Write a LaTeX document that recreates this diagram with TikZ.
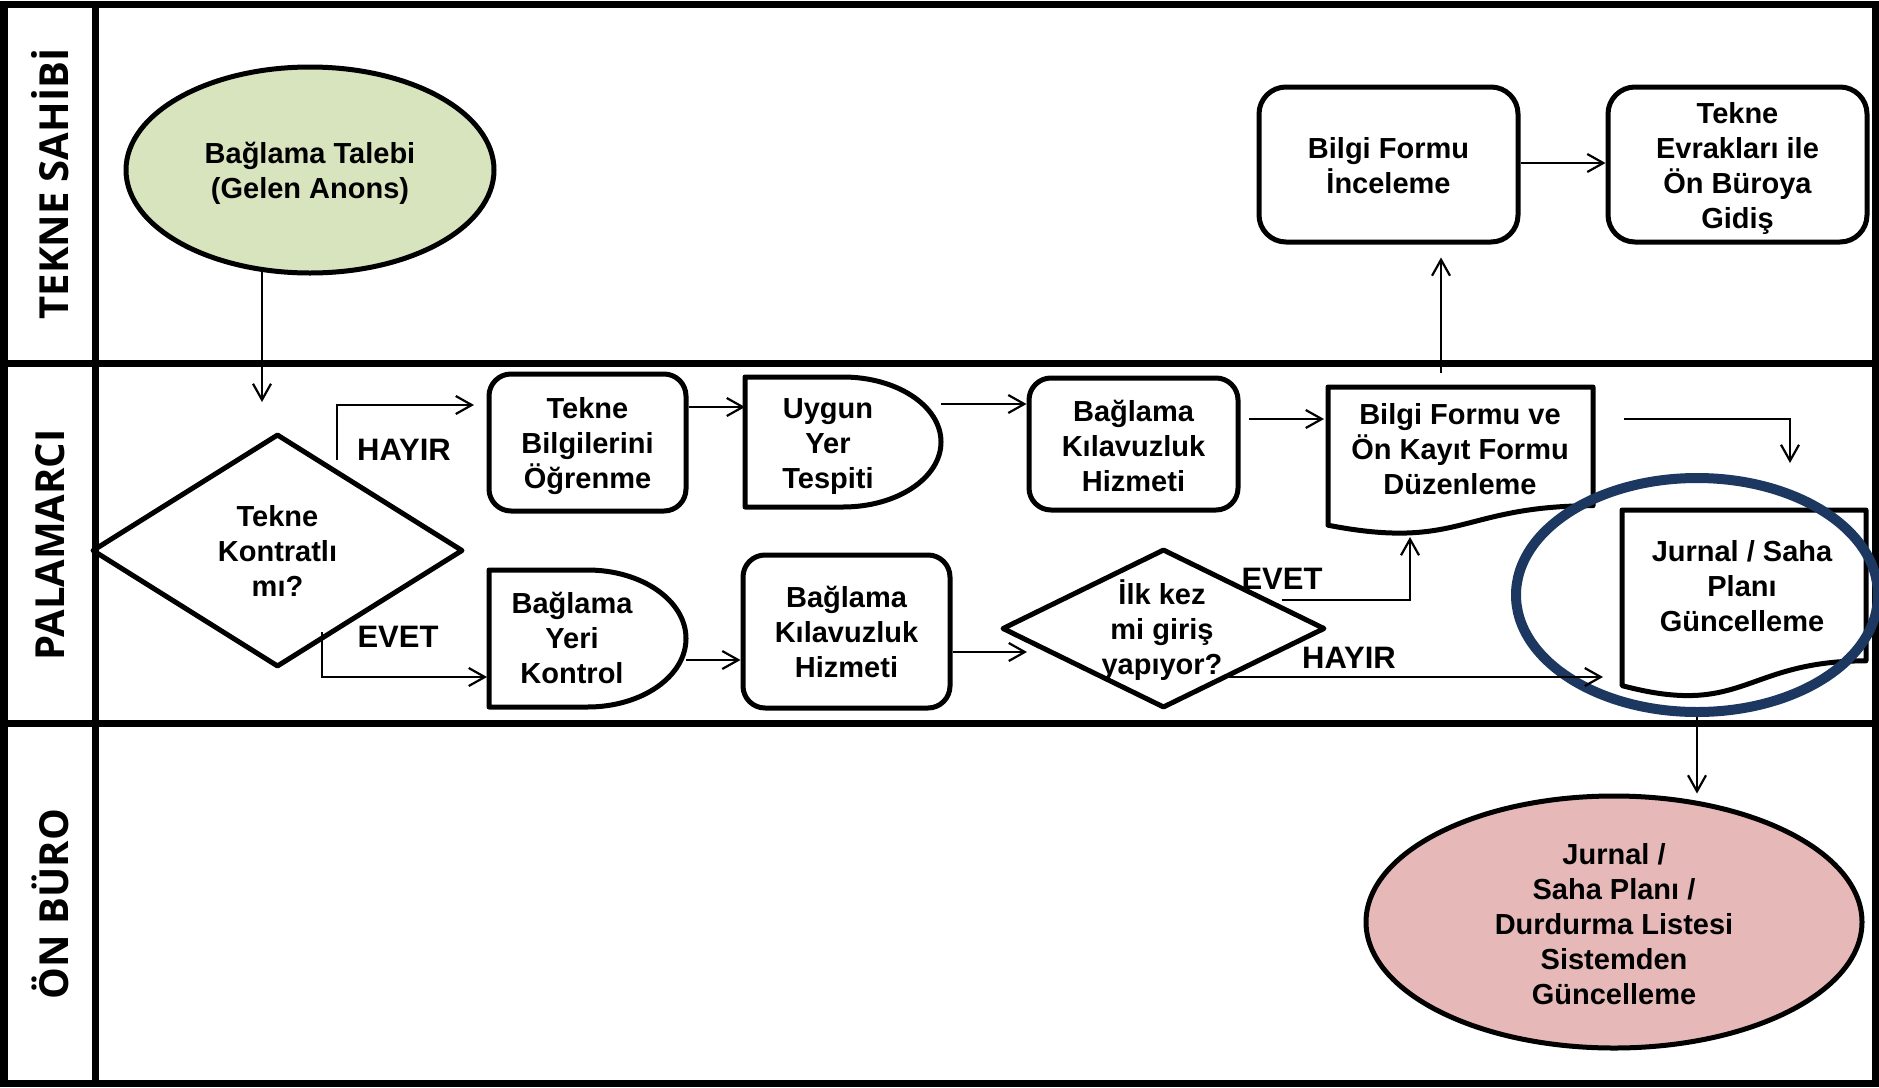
\documentclass[tikz,border=0pt]{standalone}
\usepackage{fontspec}
\setmainfont{Liberation Sans}
\newfontfamily\lanefamily{Open Sans}
\usetikzlibrary{shapes.geometric,arrows.meta}
\definecolor{talebi}{RGB}{215,228,189}
\definecolor{onburo}{RGB}{230,185,184}
\definecolor{ringblue}{RGB}{28,56,96}
\newcommand\boxfont{\fontsize{14.5}{17.5}\selectfont\bfseries}
\newcommand\lblfont{\fontsize{15.5}{18}\selectfont\bfseries}
\newcommand\lanefont{\lanefamily\bfseries\fontsize{20}{24}\selectfont}
\begin{document}
\begin{tikzpicture}[x=0.5pt,y=-0.5pt,
  lane/.style={line width=3.5pt, line cap=rect},
  shp/.style={draw, line width=2.5pt, line join=round, inner sep=0pt},
  rbox/.style={shp, rectangle, rounded corners=11pt},
  bigbox/.style={rbox, rounded corners=13.5pt, minimum width=129.5pt, minimum height=77.5pt},
  frm/.style={inner sep=0pt, outer sep=0pt, rectangle},
  txt/.style={inner sep=0pt, align=center, font=\boxfont},
  lbl/.style={inner sep=0pt, font=\lblfont},
  lanelbl/.style={rotate=90, inner sep=0pt, font=\lanefont},
  arr/.style={line width=1.1pt, -{Straight Barb[length=8pt,width=9pt]}},
]
\useasboundingbox (0,0) rectangle (1879,1087);
\fill[white] (0,0) rectangle (1879,1087);

% swimlanes
\draw[lane] (4,4) rectangle (1875,1083);
\draw[lane] (95,4) -- (95,1083);
\draw[lane] (4,363) -- (1875,363);
\draw[lane] (4,723) -- (1875,723);
\node[lanelbl] (l1) at (50,184) {TEKNE SAHİBİ};
\node[lanelbl] (l2) at (50,545) {PALAMARCI};
\node[lanelbl] (l3) at (50,904) {ÖN BÜRO};

% TEKNE SAHIBI lane
\node[shp, ellipse, fill=talebi, minimum width=184pt, minimum height=103pt] (talep) at (310,170) {};
\node[txt] (talept) at (310,173.5) {Bağlama Talebi\\(Gelen Anons)};
\node[bigbox] (bfi) at (1388.5,164.5) {};
\node[txt] (bfit) at (1388.5,165.5) {Bilgi Formu\\İnceleme};
\node[bigbox] (teo) at (1737.5,164.5) {};
\node[txt] (teot) at (1737.5,168.5) {Tekne\\Evrakları ile\\Ön Büroya\\Gidiş};

% PALAMARCI lane
\node[shp, diamond, minimum width=185.5pt, minimum height=116.5pt] (kontrat) at (277.5,550.5) {};
\node[txt] (kontratt) at (277.5,550.5) {Tekne\\Kontratlı\\mı?};

\node[rbox, minimum width=98.5pt, minimum height=68.5pt] (tbo) at (587.5,442.5) {};
\node[txt] (tbot) at (587.5,446.5) {Tekne\\Bilgilerini\\Öğrenme};

\node[frm, minimum width=98pt, minimum height=65pt] (uyg) at (843,442) {};
\draw[shp] (745,377) -- (843,377) arc[start angle=90, end angle=-90, x radius=49pt, y radius=32.5pt] -- (745,507) -- cycle;
\node[txt] (uygt) at (828,447) {Uygun\\Yer\\Tespiti};

\node[rbox, minimum width=104.5pt, minimum height=66pt] (bkh1) at (1133.5,444) {};
\node[txt] (bkh1t) at (1133.5,446) {Bağlama\\Kılavuzluk\\Hizmeti};

\node[frm, minimum width=132.5pt, minimum height=74pt] (bfk) at (1460.5,461) {};
\draw[shp] (1328,387) -- (1593,387) -- (1593,505.7) .. controls (1460.5,505.7) and (1460.5,550.9) .. (1328,525.2) -- cycle;
\node[txt] (bfkt) at (1460,449) {Bilgi Formu ve\\Ön Kayıt Formu\\Düzenleme};

\node[frm, minimum width=98.5pt, minimum height=68.5pt] (byk) at (587.5,638.5) {};
\draw[shp] (489,570) -- (587.5,570) arc[start angle=90, end angle=-90, x radius=49.25pt, y radius=34.25pt] -- (489,707) -- cycle;
\node[txt] (bykt) at (572,638) {Bağlama\\Yeri\\Kontrol};

\node[rbox, minimum width=103.5pt, minimum height=76.5pt] (bkh2) at (846.5,631.5) {};
\node[txt] (bkh2t) at (846.5,632) {Bağlama\\Kılavuzluk\\Hizmeti};

\node[shp, diamond, minimum width=161.5pt, minimum height=79.5pt] (ilk) at (1163.5,628.5) {};
\node[txt] (ilkt) at (1162,630) {İlk kez\\mi giriş\\yapıyor?};

\node[frm, minimum width=122pt, minimum height=94pt] (jsd) at (1744,604) {};
\draw[shp] (1622,510) -- (1866,510) -- (1866,660.8) .. controls (1744,660.8) and (1744,718.1) .. (1622,685.6) -- cycle;
\node[txt] (jst) at (1742,586) {Jurnal / Saha\\Planı\\Güncelleme};

% highlight ring
\node[draw=ringblue, line width=5pt, ellipse, minimum width=181pt, minimum height=117pt, inner sep=0pt] (hl) at (1697,595) {};

% ON BURO lane
\node[shp, ellipse, fill=onburo, minimum width=248pt, minimum height=126pt] (pink) at (1614,922) {};
\node[txt] (pinkt) at (1614,924) {Jurnal /\\Saha Planı /\\Durdurma Listesi\\Sistemden\\Güncelleme};

% connector rows / free ends
\coordinate (a1e) at (262,402);
\coordinate (a2s) at (337,460);
\coordinate (a2e) at (474,405);
\coordinate (a3s) at (322,632);
\coordinate (a3e) at (487,677);
\coordinate (r4) at (0,407);
\coordinate (r5) at (0,404);
\coordinate (r6) at (0,419);
\coordinate (c7) at (1441,0);
\coordinate (r8) at (0,163);
\coordinate (c9) at (1790,463);
\coordinate (r10) at (0,660);
\coordinate (a11e) at (1027,652);
\coordinate (a12s) at (1282,600);
\coordinate (a12e) at (1410,537);
\coordinate (a13s) at (1228,677);

\draw[arr] (talep.245 -| a1e) -- (a1e);
\draw[arr] (a2s) |- (a2e);
\draw[arr] (a3s) |- (a3e);
\draw[arr] (tbo.east |- r4) -- (uyg.west |- r4);
\draw[arr] (uyg.east |- r5) -- (bkh1.west |- r5);
\draw[arr] ([xshift=4pt]bkh1.east |- r6) -- ([xshift=-2pt]bfk.west |- r6);
\draw[arr] ([yshift=7pt]c7 |- bfk.north) -- ([yshift=-6.5pt]c7 |- bfi.south);
\draw[arr] (bfi.east |- r8) -- (teo.west |- r8);
\draw[arr] ([xshift=15.5pt]bfk.east |- r6) -| (c9);
\draw[arr] (byk.east |- r10) -- (bkh2.west |- r10);
\draw[arr] (bkh2.east |- a11e) -- (a11e);
\draw[arr] (a12s) -| (a12e);
\draw[arr] (a13s) -- ([xshift=-9.5pt]jsd.west |- a13s);
\draw[arr] (hl.south) -- (hl.south |- pink.north);

% labels
\node[lbl] (hayir1) at (404,450) {HAYIR};
\node[lbl] (evet1) at (398,637) {EVET};
\node[lbl] (evet2) at (1282,579) {EVET};
\node[lbl] (hayir2) at (1349,658) {HAYIR};
\end{tikzpicture}
\end{document}
